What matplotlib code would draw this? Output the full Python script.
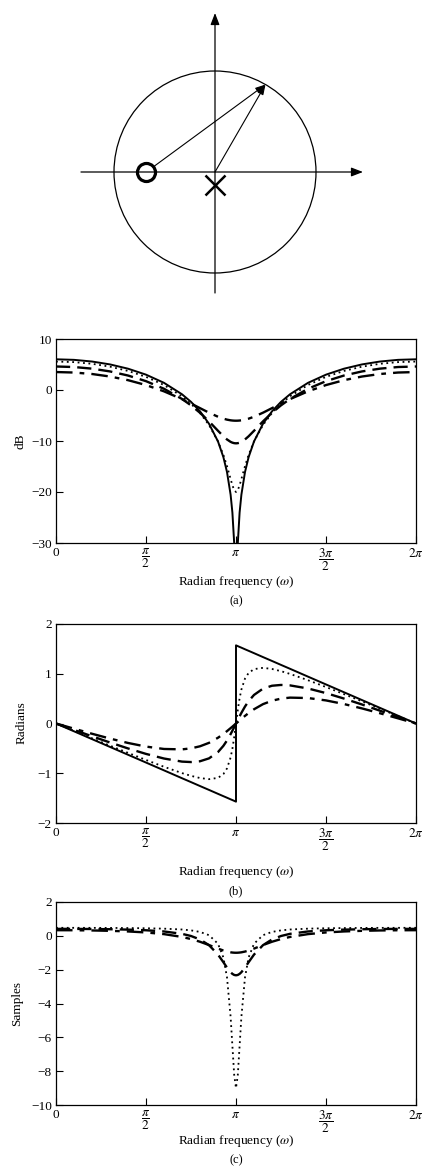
import numpy as np
import matplotlib
matplotlib.use("Agg")
import matplotlib.pyplot as plt
from matplotlib.patches import Circle
from matplotlib.transforms import ScaledTranslation

plt.rcParams["font.family"] = ["Liberation Serif", "DejaVu Serif"]
plt.rcParams["mathtext.fontset"] = "stix"
plt.rcParams["font.size"] = 9

# ---------------------------------------------------------------------------
# Pole-zero plot: zero on the negative real axis, pole at the origin,
# evaluation point e^{jw} on the unit circle.
zero_location = (-0.68, 0.0)
pole_location = (0.0, 0.0)
eval_angle_deg = 60.0

# ---------------------------------------------------------------------------
# Frequency grid, in units of pi (pi appears twice: left / right limits)
omega_over_pi = [0.0, 0.1, 0.2, 0.3, 0.4, 0.5, 0.6, 0.7, 0.75, 0.8, 0.85, 0.9,
                 0.93, 0.95, 0.97, 0.98, 0.99, 1.0,
                 1.0, 1.01, 1.02, 1.03, 1.05, 1.07, 1.1, 1.15, 1.2, 1.25, 1.3,
                 1.4, 1.5, 1.6, 1.7, 1.8, 1.9, 2.0]

radii = [1.0, 0.9, 0.7, 0.5]

# (a) log magnitude, dB
mag_db_r100 = [6.021, 5.913, 5.585, 5.018, 4.180, 3.010, 1.405, -0.839, -2.323,
               -4.180, -6.616, -10.093, -13.173, -16.087, -20.518, -24.038,
               -30.058, -np.inf,
               -np.inf, -30.058, -24.038, -20.518, -16.087, -13.173, -10.093,
               -6.616, -4.180, -2.323, -0.839, 1.405, 3.010, 4.180, 5.018,
               5.585, 5.913, 6.021]
mag_db_r090 = [5.575, 5.468, 5.140, 4.576, 3.741, 2.577, 0.982, -1.238, -2.699,
               -4.513, -6.857, -10.083, -12.729, -14.927, -17.450, -18.680,
               -19.631, -20.000,
               -20.000, -19.631, -18.680, -17.450, -14.927, -12.729, -10.083,
               -6.857, -4.513, -2.699, -1.238, 0.982, 2.577, 3.741, 4.576,
               5.140, 5.468, 5.575]
mag_db_r070 = [4.609, 4.505, 4.187, 3.642, 2.839, 1.732, 0.242, -1.758, -3.010,
               -4.469, -6.151, -7.999, -9.076, -9.697, -10.168, -10.326,
               -10.424, -10.458,
               -10.458, -10.424, -10.326, -10.168, -9.697, -9.076, -7.999,
               -6.151, -4.469, -3.010, -1.758, 0.242, 1.732, 2.839, 3.642,
               4.187, 4.505, 4.609]
mag_db_r050 = [3.522, 3.426, 3.137, 2.643, 1.928, 0.969, -0.264, -1.790, -2.653,
               -3.556, -4.449, -5.244, -5.621, -5.812, -5.944, -5.986, -6.012,
               -6.021,
               -6.021, -6.012, -5.986, -5.944, -5.812, -5.621, -5.244, -4.449,
               -3.556, -2.653, -1.790, -0.264, 0.969, 1.928, 2.643, 3.137,
               3.426, 3.522]

# (b) phase, radians
phase_r100 = [0.0, -0.157, -0.314, -0.471, -0.628, -0.785, -0.942, -1.100,
              -1.178, -1.257, -1.335, -1.414, -1.461, -1.492, -1.524, -1.539,
              -1.555, -1.571,
              1.571, 1.555, 1.539, 1.524, 1.492, 1.461, 1.414, 1.335, 1.257,
              1.178, 1.100, 0.942, 0.785, 0.628, 0.471, 0.314, 0.157, 0.0]
phase_r090 = [0.0, -0.149, -0.297, -0.445, -0.590, -0.733, -0.870, -0.997,
              -1.052, -1.096, -1.119, -1.093, -1.016, -0.903, -0.683, -0.507,
              -0.274, 0.0,
              0.0, 0.274, 0.507, 0.683, 0.903, 1.016, 1.093, 1.119, 1.096,
              1.052, 0.997, 0.870, 0.733, 0.590, 0.445, 0.297, 0.149, 0.0]
phase_r070 = [0.0, -0.129, -0.257, -0.382, -0.501, -0.611, -0.704, -0.766,
              -0.775, -0.759, -0.701, -0.574, -0.449, -0.341, -0.214, -0.145,
              -0.073, 0.0,
              0.0, 0.073, 0.145, 0.214, 0.341, 0.449, 0.574, 0.701, 0.759,
              0.775, 0.766, 0.704, 0.611, 0.501, 0.382, 0.257, 0.129, 0.0]
phase_r050 = [0.0, -0.104, -0.206, -0.303, -0.391, -0.464, -0.512, -0.520,
              -0.500, -0.458, -0.389, -0.286, -0.210, -0.153, -0.093, -0.063,
              -0.031, 0.0,
              0.0, 0.031, 0.063, 0.093, 0.153, 0.210, 0.286, 0.389, 0.458,
              0.500, 0.520, 0.512, 0.464, 0.391, 0.303, 0.206, 0.104, 0.0]

# (c) group delay, samples
delay_r090 = [0.474, 0.473, 0.471, 0.467, 0.460, 0.448, 0.424, 0.374, 0.323,
              0.231, 0.039, -0.468, -1.281, -2.454, -4.781, -6.511, -8.226,
              -9.000,
              -9.000, -8.226, -6.511, -4.781, -2.454, -1.281, -0.468, 0.039,
              0.231, 0.323, 0.374, 0.424, 0.448, 0.460, 0.467, 0.471, 0.473,
              0.474]
delay_r070 = [0.412, 0.410, 0.403, 0.390, 0.367, 0.329, 0.259, 0.118, -0.010,
              -0.214, -0.551, -1.109, -1.561, -1.878, -2.150, -2.249, -2.312,
              -2.333,
              -2.333, -2.312, -2.249, -2.150, -1.878, -1.561, -1.109, -0.551,
              -0.214, -0.010, 0.118, 0.259, 0.329, 0.367, 0.390, 0.403, 0.410,
              0.412]
delay_r050 = [0.333, 0.330, 0.318, 0.296, 0.259, 0.200, 0.101, -0.066, -0.191,
              -0.350, -0.545, -0.754, -0.868, -0.930, -0.974, -0.988, -0.997,
              -1.000,
              -1.000, -0.997, -0.988, -0.974, -0.930, -0.868, -0.754, -0.545,
              -0.350, -0.191, -0.066, 0.101, 0.200, 0.259, 0.296, 0.318, 0.330,
              0.333]

x_tick_labels = ["0", r"$\dfrac{\pi}{2}$", r"$\pi$", r"$\dfrac{3\pi}{2}$", r"$2\pi$"]

# ---------------------------------------------------------------------------
W, H = 422, 1169
fig = plt.figure(figsize=(W / 100, H / 100), dpi=100)


def box(x0, y_top, x1, y_bot):
    return [x0 / W, 1 - y_bot / H, (x1 - x0) / W, (y_bot - y_top) / H]


styles = {
    1.0: dict(ls="-", lw=1.4),
    0.9: dict(ls=(0, (1, 2)), lw=1.3),
    0.7: dict(ls=(0, (6, 3)), lw=1.7),
    0.5: dict(ls=(0, (7, 3, 2, 3)), lw=1.7),
}

# --- pole-zero diagram -----------------------------------------------------
px = 101.0  # pixels per unit
ax0 = fig.add_axes(box(0, 0, W, 300))
ax0.set_xlim(-215 / px, (W - 215) / px)
ax0.set_ylim(-128 / px, 172 / px)
ax0.axis("off")

ax0.add_patch(Circle((0, 0), 1.0, fill=False, lw=0.9, color="black"))
axis_arrow = dict(arrowstyle="-|>,head_length=0.7,head_width=0.27", lw=0.9,
                  color="black", mutation_scale=10, shrinkA=0, shrinkB=0)
ax0.annotate("", xy=(1.465, 0), xytext=(-1.327, 0), arrowprops=axis_arrow)
ax0.annotate("", xy=(0, 1.574), xytext=(0, -1.198), arrowprops=axis_arrow)

ang = np.deg2rad(eval_angle_deg)
tip = (np.cos(ang), np.sin(ang))
vec_arrow = dict(arrowstyle="-|>,head_length=0.6,head_width=0.2", lw=0.8,
                 color="black", mutation_scale=10, shrinkB=0)
ax0.annotate("", xy=tip, xytext=zero_location,
             arrowprops=dict(vec_arrow, shrinkA=6))
ax0.annotate("", xy=tip, xytext=pole_location,
             arrowprops=dict(vec_arrow, shrinkA=0))

ax0.plot(*zero_location, marker="o", ms=13, mfc="none", mec="black", mew=2.3)
pole_shift = ax0.transData + ScaledTranslation(0, -0.13, fig.dpi_scale_trans)
ax0.plot(*pole_location, marker="x", ms=14, mec="black", mew=1.8,
         transform=pole_shift)

# --- frequency-response panels ---------------------------------------------
w = np.array(omega_over_pi) * np.pi


def style_axes(ax, yticks, ylim):
    ax.set_xlim(0, 2 * np.pi)
    ax.set_ylim(*ylim)
    ax.set_xticks([0, np.pi / 2, np.pi, 3 * np.pi / 2, 2 * np.pi])
    ax.set_xticklabels(x_tick_labels)
    ax.set_yticks(yticks)
    ax.tick_params(direction="in", length=5, width=0.8, labelsize=9.5, pad=3,
                   top=False, right=False)
    for s in ax.spines.values():
        s.set_linewidth(0.9)


# (a)
axa = fig.add_axes(box(56, 339, 416, 543))
for r, y in zip(radii, [mag_db_r100, mag_db_r090, mag_db_r070, mag_db_r050]):
    axa.plot(w, y, color="black", **styles[r])
style_axes(axa, [-30, -20, -10, 0, 10], (-30, 10))

# (b)
axb = fig.add_axes(box(56, 624, 416, 823))
for r, y in zip(radii, [phase_r100, phase_r090, phase_r070, phase_r050]):
    axb.plot(w, y, color="black", **styles[r])
style_axes(axb, [-2, -1, 0, 1, 2], (-2, 2))

# (c)
axc = fig.add_axes(box(56, 902, 416, 1105))
for r, y in zip(radii[1:], [delay_r090, delay_r070, delay_r050]):
    axc.plot(w, y, color="black", **styles[r])
style_axes(axc, [-10, -8, -6, -4, -2, 0, 2], (-10, 2))

# axis titles and panel captions
xmid = 236 / W
for ylab, ymid, xlab_y, cap_y, cap, lx in [
        ("dB", 441, 582, 601, "(a)", 20),
        ("Radians", 723, 872, 891, "(b)", 22),
        ("Samples", 1003, 1141, 1160, "(c)", 17)]:
    fig.text(lx / W, 1 - ymid / H, ylab, rotation=90, ha="center",
             va="center", fontsize=9.5)
    fig.text(xmid, 1 - xlab_y / H, r"Radian frequency ($\omega$)",
             ha="center", va="center", fontsize=9.5)
    fig.text(xmid, 1 - cap_y / H, cap, ha="center", va="center", fontsize=9)

fig.savefig("out.png", dpi=100)
